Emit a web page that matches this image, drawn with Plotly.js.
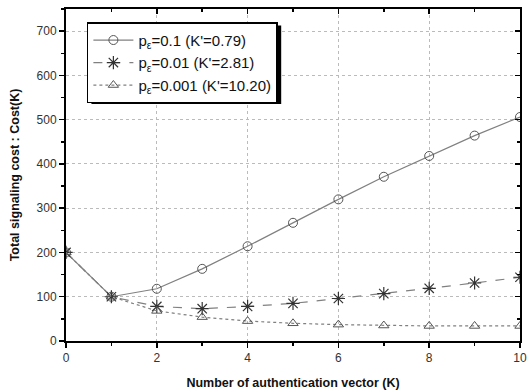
<!DOCTYPE html>
<html><head><meta charset="utf-8">
<script src="https://cdn.plot.ly/plotly-3.0.1.min.js"></script>
<style>html,body{margin:0;padding:0;background:#fff}</style>
</head><body>
<div id="chart" style="width:528px;height:392px"></div>
<script>
const K = [0,1,2,3,4,5,6,7,8,9,10];
const cost_p01 = [200,100,118,163,214,267,320,371,418,464,506];
const cost_p001 = [200,100,78,73,78,85,96,107,119,131,144];
const cost_p0001 = [200,100,68,54,45,40,37,35,34,34,34];
const names = ["p<sub>ε</sub>=0.1 (K'=0.79)", "p<sub>ε</sub>=0.01 (K'=2.81)", "p<sub>ε</sub>=0.001 (K'=10.20)"];
const xTicks = [0,2,4,6,8,10];
const yTicks = [0,100,200,300,400,500,600,700];

const lineCol = '#808080';
const markCol = '#555';
const traces = [
  {x:K, y:cost_p01, name:names[0], mode:'lines+markers',
   line:{color:lineCol, width:1.2, dash:'solid'},
   marker:{symbol:'circle-open', size:9, color:markCol, line:{width:1}}},
  {x:K, y:cost_p001, name:names[1], mode:'lines+markers',
   line:{color:lineCol, width:1.2, dash:'dash'},
   marker:{symbol:'asterisk-open', size:11, color:'#333', line:{width:1.2, color:'#333'}}},
  {x:K, y:cost_p0001, name:names[2], mode:'lines+markers',
   line:{color:lineCol, width:1.2, dash:'dot'},
   marker:{symbol:'triangle-up-open', size:9, color:markCol, line:{width:1}}}
];
const font = {family:'Liberation Sans, Arial, sans-serif', color:'#222'};
const layout = {
  width:528, height:392,
  margin:{l:66, r:8, t:9, b:51},
  paper_bgcolor:'#fff', plot_bgcolor:'#fff',
  font:font,
  showlegend:true,
  legend:{x:0.046, y:0.96, xanchor:'left', yanchor:'top', bgcolor:'#fff',
    bordercolor:'#000', borderwidth:1.5, font:{size:15, color:'#111'},
    tracegroupgap:0, itemwidth:40},
  xaxis:{range:[0,10], tickvals:xTicks, ticks:'outside', ticklen:5, tickwidth:1.5,
    tickcolor:'#000', showline:true, linecolor:'#000', linewidth:2,
    showgrid:true, gridcolor:'#bbb', griddash:'dot', gridwidth:1, zeroline:false,
    minor:{dtick:1, ticks:'outside', ticklen:3, tickcolor:'#000', showgrid:false},
    tickfont:{size:12, color:'#333'},
    title:{text:'<b>Number of authentication vector (K)</b>', font:{size:12.5, color:'#111'}, standoff:14}},
  yaxis:{range:[0,750], tickvals:yTicks, ticks:'outside', ticklen:5, tickwidth:1.5,
    tickcolor:'#000', showline:true, linecolor:'#000', linewidth:2,
    showgrid:true, gridcolor:'#bbb', griddash:'dot', gridwidth:1, zeroline:false,
    minor:{dtick:50, tick0:0, ticks:'outside', ticklen:3, tickcolor:'#000', showgrid:false},
    tickfont:{size:12, color:'#333'},
    title:{text:'<b>Total signaling cost : Cost(K)</b>', font:{size:12.5, color:'#111'}, standoff:14}},
  xaxis2:{overlaying:'x', side:'top', range:[0,10], tickvals:xTicks, ticks:'inside', ticklen:5,
    tickwidth:1.5, tickcolor:'#000', showline:true, linecolor:'#000', linewidth:2,
    showticklabels:false, showgrid:false, zeroline:false, matches:'x',
    minor:{dtick:1, ticks:'inside', ticklen:3, tickcolor:'#000', showgrid:false}},
  yaxis2:{overlaying:'y', side:'right', range:[0,750], tickvals:yTicks, ticks:'inside', ticklen:5,
    tickwidth:1.5, tickcolor:'#000', showline:true, linecolor:'#000', linewidth:2,
    showticklabels:false, showgrid:false, zeroline:false,
    minor:{dtick:50, tick0:0, ticks:'inside', ticklen:3, tickcolor:'#000', showgrid:false}},
  shapes:[{type:'rect', xref:'paper', yref:'paper', x0:0.056, x1:0.474, y0:0.714, y1:0.95,
    fillcolor:'#000', line:{width:0}, layer:'above'}]
};
traces.push({x:[0], y:[0], xaxis:'x2', yaxis:'y2', mode:'markers', marker:{opacity:0}, showlegend:false, hoverinfo:'skip'});
Plotly.newPlot('chart', traces, layout, {displayModeBar:false, staticPlot:true});
</script>
</body></html>
